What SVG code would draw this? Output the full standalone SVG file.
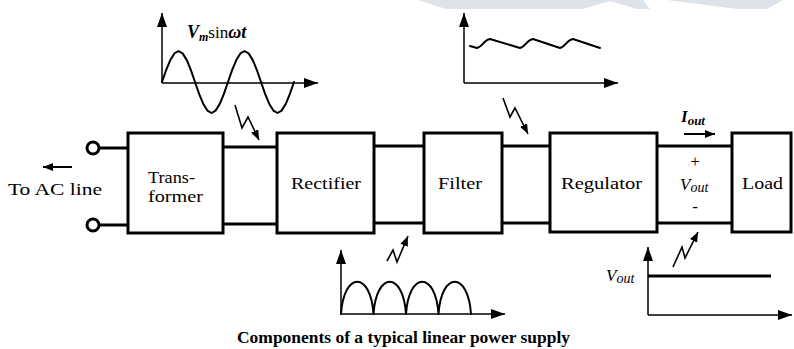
<svg xmlns="http://www.w3.org/2000/svg" width="794" height="349" viewBox="0 0 794 349">
<defs>
<marker id="ah" markerUnits="userSpaceOnUse" markerWidth="15" markerHeight="11" refX="14" refY="5" orient="auto"><path d="M0,0 L14,5 L0,10 Z" fill="#000"/></marker>
<marker id="sh" markerUnits="userSpaceOnUse" markerWidth="11" markerHeight="9" refX="10" refY="4" orient="auto"><path d="M0,0 L10,4 L0,8 Z" fill="#000"/></marker>
<style>
.box{fill:#fff;stroke:#000;stroke-width:3}
.wire{fill:none;stroke:#000;stroke-width:3}
.term{fill:#fff;stroke:#000;stroke-width:3}
.axis{fill:none;stroke:#000;stroke-width:1.5;marker-end:url(#ah)}
.wave{fill:none;stroke:#000;stroke-width:2;stroke-linejoin:round;stroke-linecap:round}
.bolt{fill:none;stroke:#000;stroke-width:1.6;marker-end:url(#sh)}
.arr{fill:none;stroke:#000;stroke-width:2;marker-end:url(#sh)}
.lbl{font-family:"Liberation Serif","Times New Roman",serif;font-size:17px;fill:#000}
.mid{text-anchor:middle}
.it{font-family:"Liberation Serif","Times New Roman",serif;font-style:italic;font-weight:bold;fill:#000}
.itn{font-family:"Liberation Serif","Times New Roman",serif;font-style:italic;font-weight:normal;fill:#000}
.cap{font-family:"Liberation Serif","Times New Roman",serif;font-weight:bold;font-size:16px;fill:#000}
</style>
</defs>
<rect width="794" height="349" fill="#fff"/>
<g id="watermark" fill="#dde3e8">
<polygon points="418,0 643,0 650,9 637,9 610,1 583,9 446,9"/>
<polygon points="667,0 783,0 767,9 737,9"/>
</g>
<g id="connectors">
<path class="wire" d="M99,148 H128 M99,225 H128"/>
<path class="wire" d="M223,147 H277 M223,224 H277"/>
<path class="wire" d="M374,146 H424 M374,223 H424"/>
<path class="wire" d="M502,146 H550 M502,223 H550"/>
<path class="wire" d="M657,146 H732 M657,223 H732"/>
</g>
<g id="node-acline">
<circle class="term" cx="93" cy="148" r="6"/>
<circle class="term" cx="93" cy="225" r="6"/>
<path class="arr" d="M72,167 H43"/>
<text class="lbl" x="8" y="195" textLength="94" lengthAdjust="spacingAndGlyphs">To AC line</text>
</g>
<g id="node-transformer">
<rect class="box" x="128" y="133" width="95" height="100"/>
<text class="lbl" x="148" y="183" textLength="47" lengthAdjust="spacingAndGlyphs">Trans-</text>
<text class="lbl" x="148" y="202" textLength="55" lengthAdjust="spacingAndGlyphs">former</text>
</g>
<g id="node-rectifier">
<rect class="box" x="277" y="133" width="97" height="100"/>
<text class="lbl mid" x="326" y="189" textLength="70" lengthAdjust="spacingAndGlyphs">Rectifier</text>
</g>
<g id="node-filter">
<rect class="box" x="424" y="133" width="78" height="100"/>
<text class="lbl mid" x="460" y="189" textLength="44" lengthAdjust="spacingAndGlyphs">Filter</text>
</g>
<g id="node-regulator">
<rect class="box" x="550" y="133" width="107" height="99"/>
<text class="lbl mid" x="601.5" y="189" textLength="81" lengthAdjust="spacingAndGlyphs">Regulator</text>
</g>
<g id="node-load">
<rect class="box" x="732" y="133" width="59" height="99"/>
<text class="lbl mid" x="762.5" y="189" textLength="41" lengthAdjust="spacingAndGlyphs">Load</text>
</g>
<g id="output-labels">
<text class="it" x="681" y="122" font-size="17">I<tspan font-size="13" dy="3">out</tspan></text>
<path class="arr" d="M684,134 H715"/>
<text class="lbl mid" x="695" y="167" font-size="14">+</text>
<text class="itn" x="680" y="190" font-size="17">V<tspan font-size="14" dy="2">out</tspan></text>
<text class="lbl mid" x="695" y="212" font-size="15">-</text>
</g>
<g id="graph-ac">
<path class="axis" d="M162,83 V13"/>
<path class="axis" d="M162,83 H318"/>
<polyline class="wave" points="162,82 166.1,70.1 170.3,60.1 174.4,53.4 178.5,51 182.6,53.4 186.8,60.1 190.9,70.1 195,82 199.1,93.9 203.3,103.9 207.4,110.6 211.5,113 215.6,110.6 219.8,103.9 223.9,93.9 228,82 232.1,70.1 236.3,60.1 240.4,53.4 244.5,51 248.6,53.4 252.8,60.1 256.9,70.1 261,82 265.1,93.9 269.3,103.9 273.4,110.6 277.5,113 281.6,110.6 285.8,103.9 289.9,93.9 294,82"/>
<text class="it" x="187" y="38" font-size="18">V<tspan font-size="12" dy="3">m</tspan><tspan font-style="normal" font-weight="normal" font-size="17" dy="-3">sin</tspan>ωt</text>
<path class="bolt" d="M235,105 L242,128 L248,117 L259,140"/>
</g>
<g id="graph-ripple">
<path class="axis" d="M464,83 V13"/>
<path class="axis" d="M464,83 H618"/>
<path class="wave" d="M470,46 L477,48 C482,47 484,40 490,39 L520,48 C525,47 527,40 533,39 L560,48 C565,47 567,40 573,39 L600,48"/>
<path class="bolt" d="M503,98 L510,117 L515,108 L528,134"/>
</g>
<g id="graph-rectified">
<path class="axis" d="M341,314 V250"/>
<path class="axis" d="M341,314 H505"/>
<path class="wave" d="M341,314 C344,271 370.5,271 373.5,314 C376.5,271 403,271 406,314 C409,271 435.5,271 438.5,314 C441.5,271 468,271 471,314"/>
<path class="bolt" d="M387,261 L393,250 L397,262 L408,236"/>
</g>
<g id="graph-dc">
<path class="axis" d="M648,315 V247"/>
<path class="axis" d="M648,315 H792"/>
<path class="wire" d="M648,276 H771"/>
<text class="itn" x="606" y="281" font-size="17">V<tspan font-size="14" dy="2">out</tspan></text>
<path class="bolt" d="M673,267 L682,247 L685,258 L698,232"/>
</g>
<text class="cap" x="237" y="343" textLength="333" lengthAdjust="spacingAndGlyphs">Components of a typical linear power supply</text>
</svg>
